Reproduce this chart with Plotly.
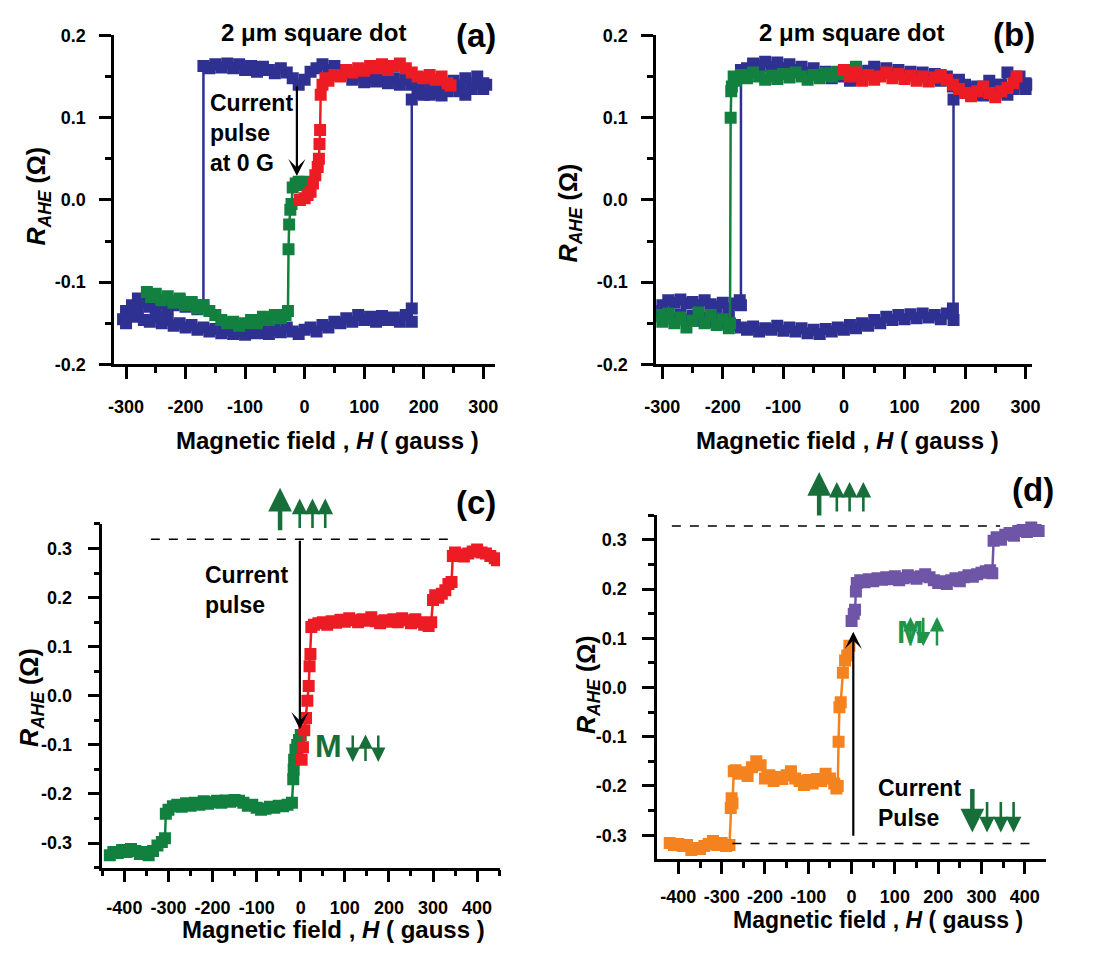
import plotly.graph_objects as go

FIG_W, FIG_H = 1108, 954
FONT = "Liberation Sans"

BLUE = "#2E3192"
RED = "#ED1C24"
GREEN = "#12803F"
ORANGE = "#F4821F"
PURPLE = "#6F55A6"
DARK_GREEN = "#176E39"
LIGHT_GREEN = "#1F9448"

# ---------------- panel (a): full loop + minor loops, 2 um dot ----------------
A_BLUE_H = [
    300, 290, 280, 270, 260, 250, 240, 230, 220, 210, 200, 190, 180, 170, 160, 150,
    140, 130, 120, 110, 100, 90, 80, 70, 60, 50, 40, 30, 20, 10, 0, -10, -20, -30,
    -40, -50, -60, -70, -80, -90, -100, -110, -120, -130, -140, -150, -160, -170,
    -170, -180, -190, -200, -210, -220, -230, -240, -250, -260, -270, -280, -290, -300, -305,
    -300, -290, -280, -270, -260, -250, -240, -230, -220, -210, -200, -190, -180, -170,
    -160, -150, -140, -130, -120, -110, -100, -90, -80, -70, -60, -50, -40, -30, -20,
    -10, 0, 10, 20, 30, 40, 50, 60, 70, 80, 90, 100, 110, 120, 130, 140, 150, 160, 170,
    180, 180,
    180, 190, 200, 210, 220, 230, 240, 250, 260, 270, 280, 290, 300, 305,
]
A_BLUE_R = [
    0.142, 0.150, 0.135, 0.148, 0.138, 0.145, 0.132, 0.140, 0.130, 0.137, 0.128, 0.134,
    0.140, 0.146, 0.140, 0.148, 0.142, 0.150, 0.144, 0.149, 0.143, 0.150, 0.146, 0.155,
    0.158, 0.163, 0.158, 0.165, 0.160, 0.156, 0.146, 0.140, 0.148, 0.155, 0.160, 0.154,
    0.158, 0.162, 0.156, 0.163, 0.158, 0.165, 0.160, 0.166, 0.161, 0.165, 0.160, 0.163,
    -0.128, -0.133, -0.125, -0.130, -0.122, -0.128, -0.132, -0.126, -0.135, -0.130,
    -0.124, -0.120, -0.128, -0.135, -0.145,
    -0.150, -0.142, -0.138, -0.146, -0.148, -0.142, -0.150, -0.146, -0.153, -0.150,
    -0.155, -0.152, -0.158, -0.155, -0.160, -0.157, -0.162, -0.158, -0.163, -0.159,
    -0.164, -0.160, -0.162, -0.158, -0.163, -0.158, -0.161, -0.155, -0.160, -0.163,
    -0.158, -0.155, -0.160, -0.152, -0.155, -0.148, -0.150, -0.144, -0.148, -0.140,
    -0.146, -0.142, -0.148, -0.141, -0.146, -0.143, -0.148, -0.140, -0.132, -0.148,
    0.122, 0.130, 0.138, 0.128, 0.135, 0.127, 0.133, 0.140, 0.132, 0.128, 0.136, 0.142,
    0.135, 0.140,
]
A_GREEN_H = [
    -265, -258, -250, -240, -230, -220, -210, -200, -190, -180, -170, -160, -150, -140,
    -130, -120, -110, -100, -90, -80, -70, -60, -50, -40, -32, -28, -27, -26, -24, -22,
    -20, -15, -10, -5, 0,
]
A_GREEN_R = [
    -0.112, -0.118, -0.114, -0.122, -0.117, -0.125, -0.120, -0.128, -0.124, -0.132,
    -0.128, -0.135, -0.140, -0.146, -0.150, -0.148, -0.153, -0.150, -0.146, -0.150,
    -0.142, -0.146, -0.140, -0.144, -0.140, -0.135, -0.060, -0.030, -0.012, -0.005,
    0.015, 0.020, 0.022, 0.018, 0.022,
]
A_RED_H = [
    -8, 0, 5, 10, 14, 18, 22, 24, 25, 26, 27, 30, 35, 40, 50, 60, 70, 80, 90, 100,
    110, 120, 130, 140, 150, 160, 170, 180, 190, 200, 210, 220, 230, 240, 245,
]
A_RED_R = [
    0.000, 0.002, 0.006, 0.010, 0.020, 0.030, 0.040, 0.050, 0.068, 0.085,
    0.128, 0.140, 0.148, 0.145, 0.152, 0.150, 0.158, 0.155, 0.160, 0.157,
    0.163, 0.160, 0.165, 0.158, 0.163, 0.166, 0.160, 0.155, 0.150, 0.148,
    0.152, 0.146, 0.150, 0.142, 0.139,
]
A_PULSE = (-13, 0.140, 0.029)  # field, from, to

# ---------------- panel (b) ----------------
B_BLUE_H = [
    300, 290, 280, 270, 260, 250, 240, 230, 220, 210, 200, 190, 180, 170, 160, 150,
    140, 130, 120, 110, 100, 90, 80, 70, 60, 50, 40, 30, 20, 10, 0, -10, -20, -30,
    -40, -50, -60, -70, -80, -90, -100, -110, -120, -130, -140, -150, -160, -170,
    -170, -172, -180, -190, -200, -210, -220, -230, -240, -250, -260, -270, -280, -290,
    -300, -305,
    -300, -290, -280, -270, -260, -250, -240, -230, -220, -210, -200, -190, -180, -170,
    -160, -150, -140, -130, -120, -110, -100, -90, -80, -70, -60, -50, -40, -30, -20,
    -10, 0, 10, 20, 30, 40, 50, 60, 70, 80, 90, 100, 110, 120, 130, 140, 150, 160, 170,
    180, 181,
    181, 190, 200, 210, 220, 230, 240, 250, 260, 270, 280, 290, 300, 305,
]
B_BLUE_R = [
    0.142, 0.150, 0.135, 0.155, 0.140, 0.130, 0.145, 0.128, 0.138, 0.132, 0.140, 0.146,
    0.138, 0.150, 0.145, 0.153, 0.147, 0.155, 0.150, 0.156, 0.152, 0.158, 0.154, 0.160,
    0.155, 0.162, 0.157, 0.152, 0.148, 0.145, 0.150, 0.155, 0.148, 0.156, 0.152, 0.160,
    0.155, 0.162, 0.158, 0.165, 0.160, 0.167, 0.162, 0.168, 0.163, 0.166, 0.160, 0.158,
    -0.128, -0.122, -0.126, -0.132, -0.125, -0.130, -0.127, -0.122, -0.128, -0.124,
    -0.126, -0.121, -0.125, -0.122, -0.128, -0.135,
    -0.142, -0.138, -0.145, -0.140, -0.146, -0.141, -0.147, -0.143, -0.148, -0.144,
    -0.150, -0.146, -0.152, -0.155, -0.158, -0.154, -0.160, -0.156, -0.158, -0.153,
    -0.159, -0.155, -0.160, -0.156, -0.162, -0.158, -0.163, -0.157, -0.160, -0.155,
    -0.158, -0.152, -0.156, -0.150, -0.153, -0.146, -0.150, -0.142, -0.146, -0.140,
    -0.145, -0.139, -0.144, -0.138, -0.143, -0.140, -0.145, -0.138, -0.132, -0.146,
    0.122, 0.130, 0.136, 0.128, 0.135, 0.127, 0.133, 0.140, 0.132, 0.128, 0.136, 0.142,
    0.135, 0.140,
]
B_GREEN_H = [
    20, 10, 0, -10, -20, -30, -40, -50, -60, -70, -80, -90, -100, -110, -120, -130,
    -140, -150, -160, -170, -178, -182, -185, -186, -187, -188, -190, -200, -210, -220,
    -230, -240, -250, -260, -270, -280, -290, -300, -305,
]
B_GREEN_R = [
    0.162, 0.158, 0.153, 0.156, 0.150, 0.154, 0.148, 0.152, 0.146, 0.150,
    0.155, 0.149, 0.153, 0.147, 0.151, 0.146, 0.150, 0.155, 0.148, 0.152,
    0.145, 0.150, 0.138, 0.132, 0.100, -0.150, -0.156,
    -0.145, -0.152, -0.140, -0.150, -0.137, -0.147, -0.155, -0.143, -0.150, -0.138,
    -0.148, -0.140,
]
B_RED_H = [
    0, 10, 20, 30, 40, 50, 60, 70, 80, 90, 100, 110, 120, 130, 140, 150, 160, 170,
    180, 190, 200, 210, 220, 230, 240, 250, 260, 270, 280, 285,
]
B_RED_R = [
    0.158, 0.150, 0.155, 0.145, 0.152, 0.146, 0.150, 0.155, 0.148, 0.153,
    0.147, 0.151, 0.145, 0.150, 0.144, 0.149, 0.152, 0.146, 0.140, 0.135,
    0.130, 0.126, 0.132, 0.138, 0.130, 0.125, 0.132, 0.136, 0.142, 0.150,
]

# ---------------- panel (c) ----------------
C_GREEN_H = [
    -433, -425, -415, -405, -395, -385, -375, -365, -355, -345, -335, -325, -315,
    -308, -306, -300, -290, -280, -270, -260, -250, -240, -230, -220, -210, -200,
    -190, -180, -170, -160, -150, -140, -130, -120, -110, -100, -90, -80, -70, -60,
    -50, -40, -30, -20, -17, -16, -15, -12, -8, -4, 0,
]
C_GREEN_R = [
    -0.325, -0.318, -0.320, -0.314, -0.318, -0.312, -0.316, -0.322, -0.318, -0.325,
    -0.316, -0.305, -0.298, -0.290, -0.240,
    -0.232, -0.225, -0.222, -0.226, -0.219, -0.224, -0.218, -0.222, -0.215, -0.220,
    -0.217, -0.214, -0.218, -0.213, -0.216, -0.212, -0.214, -0.218, -0.224, -0.222,
    -0.228, -0.232, -0.230, -0.226, -0.228, -0.224, -0.225, -0.222, -0.218,
    -0.170, -0.150, -0.130, -0.110, -0.100, -0.090, -0.080,
]
C_RED_H = [
    2, 5, 8, 12, 15, 18, 20, 22, 24,
    30, 40, 50, 60, 70, 80, 90, 100, 110, 120, 130, 140, 150, 160, 170, 180, 190, 200,
    210, 220, 230, 240, 250, 260, 270, 280, 290,
    296, 300, 305, 312, 320, 328, 335, 342, 345,
    350, 360, 370, 380, 390, 400, 410, 420, 430, 440, 445,
]
C_RED_R = [
    -0.130, -0.105, -0.070, -0.045, -0.010, 0.020, 0.060, 0.085, 0.140,
    0.145, 0.148, 0.150, 0.145, 0.152, 0.149, 0.155, 0.151, 0.158, 0.154,
    0.150, 0.156, 0.153, 0.160, 0.152, 0.148, 0.154, 0.151, 0.156, 0.150,
    0.158, 0.154, 0.148, 0.156, 0.150, 0.145, 0.142,
    0.150, 0.195, 0.205, 0.200, 0.208, 0.215, 0.228, 0.232, 0.285,
    0.292, 0.288, 0.284, 0.290, 0.294, 0.298, 0.292, 0.290, 0.285, 0.280, 0.276,
]
C_SAT_LEVEL = (0.319, -340, 351)   # level, from field, to field
C_PULSE = (-2, 0.319, -0.068)      # field, from, to

# ---------------- panel (d) ----------------
D_ORANGE_H = [
    -420, -410, -400, -390, -380, -370, -360, -350, -340, -330, -320, -310, -300, -290,
    -282, -279, -277, -275, -272, -268,
    -260, -250, -240, -230, -220, -210, -200, -190, -180, -170, -160, -150, -140, -130,
    -120, -110, -100, -90, -80, -70, -60, -50, -40,
    -35, -32, -30, -28, -25, -20, -15, -10, -5,
]
D_ORANGE_R = [
    -0.316, -0.320, -0.318, -0.322, -0.320, -0.330, -0.326, -0.328, -0.322, -0.318,
    -0.312, -0.320, -0.316, -0.322,
    -0.320, -0.245, -0.225, -0.235, -0.170, -0.168,
    -0.175, -0.172, -0.180, -0.162, -0.150, -0.158, -0.185, -0.178, -0.190, -0.182,
    -0.186, -0.178, -0.170, -0.185, -0.190, -0.198, -0.188, -0.195, -0.186, -0.190,
    -0.175, -0.185, -0.195,
    -0.205, -0.200, -0.110, -0.040, -0.030, 0.030, 0.055, 0.065, 0.085,
]
D_PURPLE_H = [
    0, 5, 8, 10, 12,
    20, 30, 40, 50, 60, 70, 80, 90, 100, 110, 120, 130, 140, 150, 160, 170, 180, 190,
    200, 210, 220, 230, 240, 250, 260, 270, 280, 290, 300, 310, 320,
    325,
    328, 335, 345, 355, 365, 375, 385, 395, 405, 415, 425, 432,
]
D_PURPLE_R = [
    0.135, 0.150, 0.158, 0.195, 0.212,
    0.218, 0.214, 0.220, 0.216, 0.222, 0.219, 0.224, 0.220, 0.226, 0.218,
    0.222, 0.228, 0.224, 0.221, 0.226, 0.230, 0.224, 0.218, 0.212, 0.216,
    0.210, 0.218, 0.222, 0.216, 0.224, 0.228, 0.225, 0.230, 0.233, 0.236, 0.238,
    0.232,
    0.298, 0.305, 0.300, 0.310, 0.314, 0.308, 0.318, 0.320, 0.316, 0.325, 0.320, 0.318,
]
D_TOP_LEVEL = (0.328, -415, 343)     # level, from field, to field
D_BOTTOM_LEVEL = (-0.317, -275, 419)
D_PULSE = (4, -0.304, 0.113)

# ---------------- tick labels ----------------
AB_XTICKS = [-300, -200, -100, 0, 100, 200, 300]
AB_XTEXT = ["-300", "-200", "-100", "0", "100", "200", "300"]
AB_YTICKS = [-0.2, -0.1, 0.0, 0.1, 0.2]
AB_YTEXT = ["-0.2", "-0.1", "0.0", "0.1", "0.2"]
CD_XTICKS = [-400, -300, -200, -100, 0, 100, 200, 300, 400]
CD_XTEXT = ["-400", "-300", "-200", "-100", "0", "100", "200", "300", "400"]
CD_YTICKS = [-0.3, -0.2, -0.1, 0.0, 0.1, 0.2, 0.3]
CD_YTEXT = ["-0.3", "-0.2", "-0.1", "0.0", "0.1", "0.2", "0.3"]


def px(x):
    return x / FIG_W


def py(y):
    return 1 - y / FIG_H


fig = go.Figure()


def add_series(h, r, color, xa, ya):
    fig.add_trace(go.Scatter(
        x=h, y=r, mode="lines+markers", xaxis=xa, yaxis=ya,
        line=dict(color=color, width=2.5),
        marker=dict(symbol="square", size=12, color=color, line=dict(width=0)),
        showlegend=False, hoverinfo="skip",
    ))


add_series(A_BLUE_H, A_BLUE_R, BLUE, "x", "y")
add_series(A_GREEN_H, A_GREEN_R, GREEN, "x", "y")
add_series(A_RED_H, A_RED_R, RED, "x", "y")

add_series(B_BLUE_H, B_BLUE_R, BLUE, "x2", "y2")
add_series(B_GREEN_H, B_GREEN_R, GREEN, "x2", "y2")
add_series(B_RED_H, B_RED_R, RED, "x2", "y2")

add_series(C_GREEN_H, C_GREEN_R, GREEN, "x3", "y3")
add_series(C_RED_H, C_RED_R, RED, "x3", "y3")

add_series(D_ORANGE_H, D_ORANGE_R, ORANGE, "x4", "y4")
add_series(D_PURPLE_H, D_PURPLE_R, PURPLE, "x4", "y4")

tickfont = dict(family=FONT, size=18, color="black", weight="bold")


def axis(domain, rng, tickvals, ticktext, minor_dtick, anchor, standoff):
    return dict(
        domain=domain, range=rng, anchor=anchor,
        tickmode="array", tickvals=tickvals, ticktext=ticktext,
        showline=True, linecolor="black", linewidth=2.5, mirror=False,
        ticks="outside", ticklen=12, tickwidth=2.5, tickcolor="black",
        minor=dict(tickmode="linear", tick0=0, dtick=minor_dtick, ticks="outside",
                   ticklen=6, tickwidth=2.5, tickcolor="black", showgrid=False),
        showgrid=False, zeroline=False, tickfont=tickfont,
        ticklabelstandoff=standoff, fixedrange=True,
    )


dom_a_x = [px(104), px(492)]
dom_b_x = [px(656), px(1039)]
dom_ab_y = [py(362), py(26)]
dom_c_x = [px(92), px(497)]
dom_c_y = [py(876), py(525)]
dom_d_x = [px(657), px(1053)]
dom_d_y = [py(867), py(516)]

layout = dict(
    width=FIG_W, height=FIG_H, autosize=False,
    margin=dict(l=0, r=0, t=0, b=0),
    paper_bgcolor="white", plot_bgcolor="white",
    showlegend=False,
    xaxis=axis(dom_a_x, [-320, 320], AB_XTICKS, AB_XTEXT, 50, "y", 12),
    yaxis=axis(dom_ab_y, [-0.2, 0.2], AB_YTICKS, AB_YTEXT, 0.05, "x", 10),
    xaxis2=axis(dom_b_x, [-310, 311], AB_XTICKS, AB_XTEXT, 50, "y2", 12),
    yaxis2=axis(dom_ab_y, [-0.2, 0.2], AB_YTICKS, AB_YTEXT, 0.05, "x2", 10),
    xaxis3=axis(dom_c_x, [-450, 452], CD_XTICKS, CD_XTEXT, 50, "y3", 10),
    yaxis3=axis(dom_c_y, [-0.35, 0.35], CD_YTICKS, CD_YTEXT, 0.05, "x3", 12),
    xaxis4=axis(dom_d_x, [-449, 449], CD_XTICKS, CD_XTEXT, 50, "y4", 8),
    yaxis4=axis(dom_d_y, [-0.348, 0.35], CD_YTICKS, CD_YTEXT, 0.05, "x4", 12),
)
fig.update_layout(**layout)

annotations = []


def text(s, x, y, size, color="black", xanchor="center", align="center", angle=0):
    annotations.append(dict(
        text=s, x=px(x), y=py(y), xref="paper", yref="paper",
        xanchor=xanchor, yanchor="middle", align=align, showarrow=False,
        textangle=angle,
        font=dict(family=FONT, size=size, color=color, weight="bold"),
    ))


def arrow(x, tip_y, tail_y, color, width, size):
    annotations.append(dict(
        text="", x=px(x), y=py(tip_y), xref="paper", yref="paper",
        ax=0, ay=tail_y - tip_y, axref="pixel", ayref="pixel",
        showarrow=True, arrowhead=2, arrowwidth=width, arrowsize=size,
        arrowcolor=color, standoff=0, startstandoff=0,
    ))


def data_arrow(pulse, xa, ya):
    h, r_from, r_to = pulse
    annotations.append(dict(
        text="", x=h, y=r_to, xref=xa, yref=ya,
        ax=h, ay=r_from, axref=xa, ayref=ya,
        showarrow=True, arrowhead=3, arrowwidth=2.2, arrowsize=1.3,
        arrowcolor="black", standoff=0,
    ))


X_TITLE = "Magnetic field , <i>H</i> ( gauss )"
Y_TITLE = "<i>R<sub>AHE</sub></i> (Ω)"
DOT_TITLE = "2 μm square dot"

# axis titles
text(X_TITLE, 321, 440, 24)
text(X_TITLE, 851, 440, 24)
text(X_TITLE, 327, 939, 24)
text(X_TITLE, 882, 929, 23)
text(Y_TITLE, 27, 190, 25, angle=-90)
text(Y_TITLE, 568, 207, 25, angle=-90)
text(Y_TITLE, 20, 702, 25, angle=-90)
text(Y_TITLE, 586, 689, 25, angle=-90)

# panel headings and labels
text(DOT_TITLE, 307, 23, 24)
text(DOT_TITLE, 855, 23, 24)
text("(a)", 473, 26, 33)
text("(b)", 1020, 25, 33)
text("(c)", 473, 503, 33)
text("(d)", 1040, 490, 33)

# panel (a) pulse note
text("Current<br>pulse<br>at 0 G", 200, 126, 23, xanchor="left", align="left")
data_arrow(A_PULSE, "x", "y")

# panel (c)
text("Current<br>pulse", 195, 592, 23, xanchor="left", align="left")
data_arrow(C_PULSE, "x3", "y3")
arrow(273, 488, 532, DARK_GREEN, 4.5, 1.05)
for xs in (293, 306, 319):
    arrow(xs, 499, 530, DARK_GREEN, 2.6, 1.2)
text("M", 322, 752, 32, color=DARK_GREEN)
arrow(347, 768, 740, DARK_GREEN, 2.5, 1.15)
arrow(360, 740, 768, DARK_GREEN, 2.5, 1.15)
arrow(373, 768, 740, DARK_GREEN, 2.5, 1.15)

# panel (d)
text("Current<br>Pulse", 880, 810, 23, xanchor="left", align="left")
data_arrow(D_PULSE, "x4", "y4")
arrow(822, 472, 517, DARK_GREEN, 4.5, 1.05)
for xs in (840, 853, 867):
    arrow(xs, 482, 513, DARK_GREEN, 2.6, 1.2)
arrow(978, 840, 795, DARK_GREEN, 4.5, 1.05)
for xs in (993, 1007, 1020):
    arrow(xs, 840, 808, DARK_GREEN, 2.6, 1.2)
text("M", 915, 635, 32, color=LIGHT_GREEN)
arrow(915, 620, 650, LIGHT_GREEN, 2.5, 1.15)
arrow(928, 650, 620, LIGHT_GREEN, 2.5, 1.15)
arrow(942, 620, 650, LIGHT_GREEN, 2.5, 1.15)

fig.update_layout(annotations=annotations)


def level_line(level, xa, ya):
    r, h0, h1 = level
    return dict(type="line", xref=xa, yref=ya, x0=h0, x1=h1, y0=r, y1=r,
                line=dict(color="black", width=1.5, dash="dash"))


fig.update_layout(shapes=[
    level_line(C_SAT_LEVEL, "x3", "y3"),
    level_line(D_TOP_LEVEL, "x4", "y4"),
    level_line(D_BOTTOM_LEVEL, "x4", "y4"),
])

fig.write_html("out.html")
